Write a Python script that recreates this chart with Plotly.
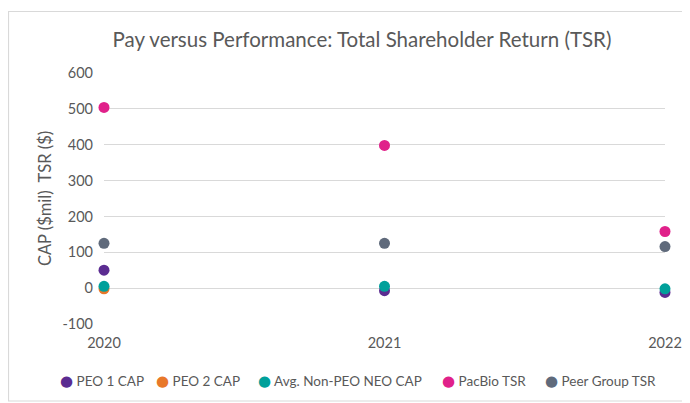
import plotly.graph_objects as go

years = [2020, 2021, 2022]
peo1_cap = [50, -7, -12]
peo2_cap = [-2, None, None]
avg_neo_cap = [5, 5, -2]
pacbio_tsr = [504, 398, 158]
peer_tsr = [125, 125, 116]
y_ticks = [-100, 0, 100, 200, 300, 400, 500, 600]

series = [
    ("PEO 1 CAP", peo1_cap, "#5B2C91"),
    ("PEO 2 CAP", peo2_cap, "#E8782A"),
    ("Avg. Non-PEO NEO CAP", avg_neo_cap, "#00A09A"),
    ("PacBio TSR", pacbio_tsr, "#E0218A"),
    ("Peer Group TSR", peer_tsr, "#5F6A7B"),
]

FONT = "Lato"
GRAY = "#595959"

fig = go.Figure()
for name, vals, col in series:
    fig.add_trace(go.Scatter(
        x=years, y=vals, name=name, mode="markers",
        marker=dict(color=col, size=11, line=dict(width=0)),
        cliponaxis=False, showlegend=False,
    ))

# The page body has an 8px margin, so the figure is drawn 8px in from the window.
OFF = 8
W, H = 690 - OFF, 403 - OFF
L, R, T, B = 104 - OFF, 25, 73 - OFF, 79
pw, ph = W - L - R, H - T - B

def px_x(p):
    return (p - OFF - L) / pw

def px_y(p):
    return (H - B - (p - OFF)) / ph

fig.add_shape(type="rect", xref="paper", yref="paper",
              x0=px_x(8.5), x1=px_x(720), y0=px_y(401), y1=px_y(11.5),
              line=dict(color="#D9D9D9", width=1.2), fillcolor="rgba(0,0,0,0)",
              layer="below")

# Legend row (one line, tight symbol-to-text spacing as in the reference)
legend_left = [58, 154, 256, 440, 543]
for (name, _, col), lx in zip(series, legend_left):
    fig.add_annotation(
        xref="paper", yref="paper", x=px_x(lx), y=px_y(381),
        xanchor="left", yanchor="middle", showarrow=False,
        text=f'<span style="color:{col};font-size:15px;font-family:DejaVu Sans">●</span> {name}',
        font=dict(size=13.5, color=GRAY, family=FONT),
    )

fig.update_layout(
    width=W, height=H,
    margin=dict(l=L, r=R, t=T, b=B, autoexpand=False),
    paper_bgcolor="white", plot_bgcolor="white",
    font=dict(family=FONT, color=GRAY, size=14),
    title=dict(text="Pay versus Performance: Total Shareholder Return (TSR)",
               xref="container", x=(362 - OFF) / W, xanchor="center",
               yref="container", y=1 - (40 - OFF) / H, yanchor="middle",
               font=dict(size=20.5, color=GRAY, family=FONT)),
    showlegend=False,
    xaxis=dict(range=[2020, 2022], tickvals=years, ticktext=[str(y) for y in years],
               showgrid=False, zeroline=False, showline=False,
               ticklabelstandoff=8, tickfont=dict(size=14.5, color=GRAY)),
    yaxis=dict(range=[-100, 600], tickvals=y_ticks, ticktext=[str(v) for v in y_ticks],
               showgrid=True, gridcolor="#D9D9D9", gridwidth=1,
               zeroline=False, showline=False,
               ticklabelstandoff=10, tickfont=dict(size=14.5, color=GRAY),
               title=dict(text="CAP ($mil)  TSR ($)", standoff=6,
                          font=dict(size=16.5, color=GRAY))),
)

fig.write_html("out.html")
